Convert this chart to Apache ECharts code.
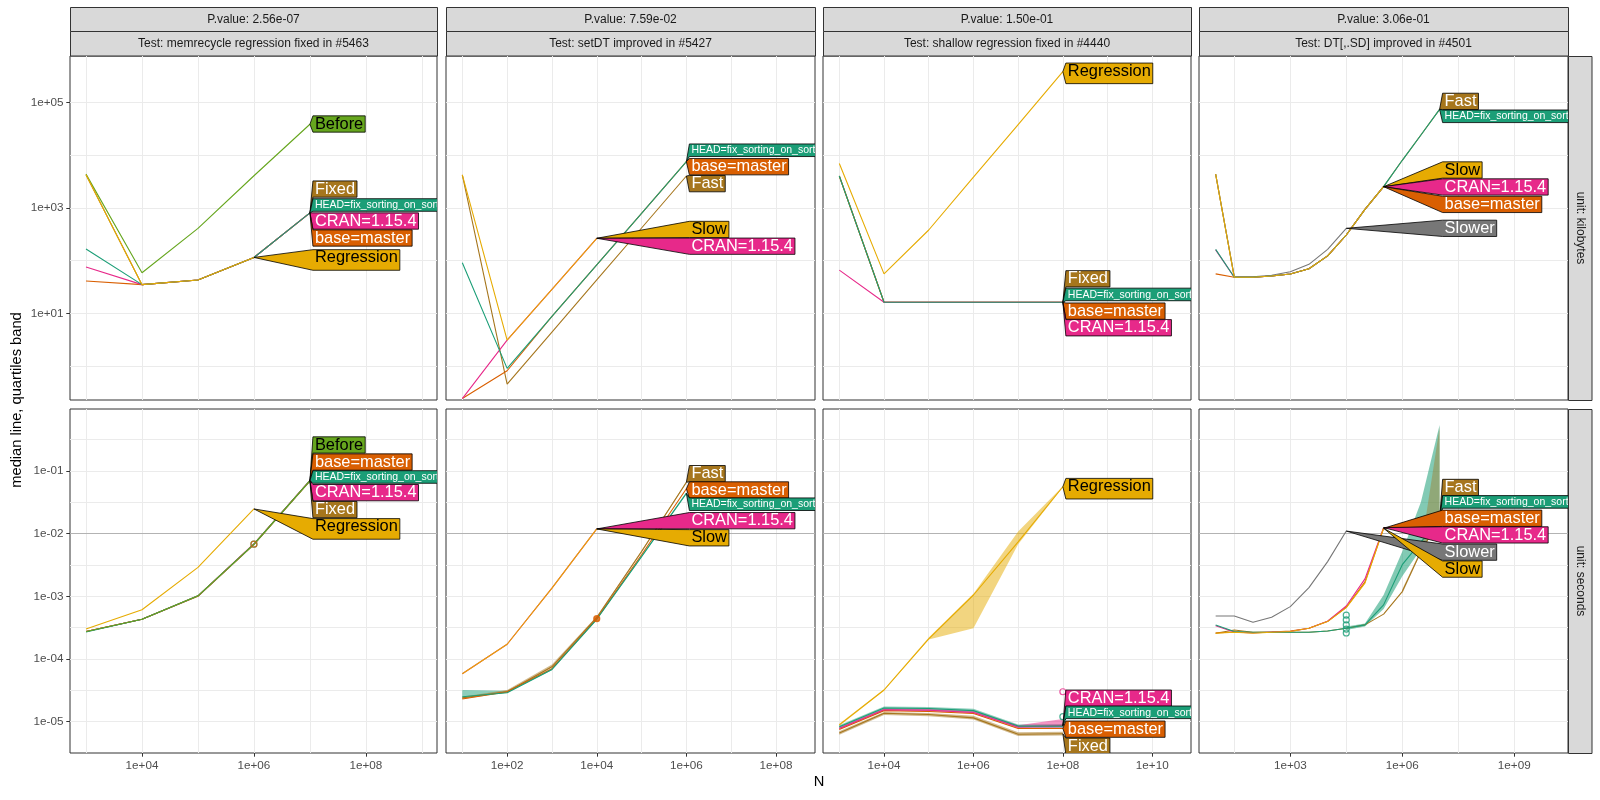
<!DOCTYPE html>
<html>
<head>
<meta charset="utf-8">
<script src="https://cdn.jsdelivr.net/npm/echarts@6.0.0/dist/echarts.min.js"></script>
<style>
html,body{margin:0;padding:0;background:#ffffff;}
#chart{width:1600px;height:800px;}
</style>
</head>
<body>
<div id="chart"></div>
<script>
// ===================== texts =====================
const pValueLabels = ['P.value: 2.56e-07', 'P.value: 7.59e-02', 'P.value: 1.50e-01', 'P.value: 3.06e-01'];
const testLabels = ['Test: memrecycle regression fixed in #5463', 'Test: setDT improved in #5427', 'Test: shallow regression fixed in #4440', 'Test: DT[,.SD] improved in #4501'];
const unitLabels = ['unit: kilobytes', 'unit: seconds'];
const xTitle = 'N';
const yTitle = 'median line, quartiles band';

const HEAD = 'HEAD=fix_sorting_on_sorted';
const BASE = 'base=master';
const CRAN = 'CRAN=1.15.4';

// ===================== axis breaks (log10 exponents) =====================
const xRangeExp = [[2.714, 9.27], [0.636, 8.87], [2.635, 10.866], [0.554, 10.44]];
const yRangeExp = [[-0.647, 5.887], [-5.5, -0.011]];
const xMajorExp = [[4, 6, 8], [2, 4, 6, 8], [4, 6, 8, 10], [3, 6, 9]];
const xGridExp = [[3, 4, 5, 6, 7, 8, 9], [1, 2, 3, 4, 5, 6, 7, 8], [3, 4, 5, 6, 7, 8, 9, 10], [1.5, 3, 4.5, 6, 7.5, 9]];
const yMajorExp = [[1, 3, 5], [-5, -4, -3, -2, -1]];
const yGridExp = [[0, 1, 2, 3, 4, 5], [-5, -4.5, -4, -3.5, -3, -2.5, -2, -1.5, -1, -0.5]];
const refLineSeconds = 0.01;

// ===================== column 1 : memrecycle =====================
const c1N = [1e3, 1e4, 1e5, 1e6, 1e7];
const c1KbBefore = [4400, 59, 410, 4100, 39000];
const c1KbRegression = [4300, 35, 43, 115];
const c1KbFixed = [4300, 35, 43, 115, 810];
const c1KbHead = [166, 35, 43, 115, 810];
const c1KbCran = [76, 35, 43, 115, 810];
const c1KbBase = [41, 35, 43, 115, 810];
const c1SecBefore = [2.75e-4, 4.3e-4, 1.02e-3, 6.8e-3, 0.070];
const c1SecRegression = [3.0e-4, 6.1e-4, 2.9e-3, 0.0248];
const c1SecFixed = [2.75e-4, 4.3e-4, 1.0e-3, 6.7e-3, 0.069];
const c1SecHead = [2.7e-4, 4.3e-4, 1.02e-3, 6.8e-3, 0.070];
const c1SecCran = [2.75e-4, 4.3e-4, 1.02e-3, 6.9e-3, 0.071];
const c1SecBase = [2.75e-4, 4.3e-4, 1.01e-3, 6.8e-3, 0.070];
const c1SecOutlierN = [1e6];
const c1SecOutlier = [6.8e-3];
const c1KbLabelNames = ['Before', 'Fixed', HEAD, CRAN, BASE, 'Regression'];
const c1KbLabelY = [3.94e4, 2290, 1140, 566, 269, 103];
const c1SecLabelNames = ['Before', BASE, HEAD, CRAN, 'Fixed', 'Regression'];
const c1SecLabelY = [0.26, 0.139, 0.0802, 0.0451, 0.0242, 0.0119];

// ===================== column 2 : setDT =====================
const c2N = [1e1, 1e2, 1e3, 1e4, 1e5, 1e6];
const c2KbSlow = [4240, 3.1, 28.6, 266];
const c2KbCran = [0.24, 3.1, 28.6, 266];
const c2KbHead = [91, 0.9, 8.7, 83, 794, 7590];
const c2KbBase = [0.24, 0.81, 8.7, 83, 794, 7590];
const c2KbFast = [4240, 0.45, 4.4, 43, 417, 4050];
const c2SecSlow = [5.8e-5, 1.72e-4, 1.35e-3, 0.0119];
const c2SecCran = [5.8e-5, 1.72e-4, 1.35e-3, 0.0119];
const c2SecFast = [2.4e-5, 3.0e-5, 7.5e-5, 4.6e-4, 5.2e-3, 0.066];
const c2SecBase = [2.3e-5, 3.0e-5, 7.0e-5, 4.4e-4, 4.6e-3, 0.052];
const c2SecHead = [2.5e-5, 2.9e-5, 6.8e-5, 4.3e-4, 4.3e-3, 0.044];
const c2SecHeadQ1 = [2.5e-5, 2.9e-5, 6.6e-5, 4.2e-4, 4.2e-3, 0.043];
const c2SecHeadQ3 = [3.2e-5, 3.1e-5, 7.1e-5, 4.5e-4, 4.5e-3, 0.046];
const c2SecFastQ1 = [2.3e-5, 2.9e-5, 7.3e-5, 4.5e-4, 5.0e-3, 0.064];
const c2SecFastQ3 = [2.5e-5, 3.2e-5, 8.2e-5, 4.8e-4, 5.4e-3, 0.068];
const c2SecOutlierN = [1e4];
const c2SecOutlier = [4.4e-4];
const c2KbLabelNames = [HEAD, BASE, 'Fast', 'Slow', CRAN];
const c2KbLabelY = [1.25e4, 6080, 2900, 391, 188];
const c2SecLabelNames = ['Fast', BASE, HEAD, CRAN, 'Slow'];
const c2SecLabelY = [0.0906, 0.0498, 0.0295, 0.0161, 0.00859];

// ===================== column 3 : shallow =====================
const c3N = [1e3, 1e4, 1e5, 1e6, 1e7, 1e8];
const c3KbRegression = [7000, 56, 382, 3840, 38500, 3.9e5];
const c3KbFixed = [4060, 16.2, 16.2, 16.2, 16.2, 16.2];
const c3KbHead = [4060, 16.2, 16.2, 16.2, 16.2, 16.2];
const c3KbBase = [4060, 16.2, 16.2, 16.2, 16.2, 16.2];
const c3KbCran = [66, 16.2, 16.2, 16.2, 16.2, 16.2];
const c3SecRegression = [8.9e-6, 3.2e-5, 2.1e-4, 1.05e-3, 7.4e-3, 0.056];
const c3SecRegressionQ1 = [8.5e-6, 3.1e-5, 2.05e-4, 3.1e-4, 6.8e-3, 0.055];
const c3SecRegressionQ3 = [9.3e-6, 3.3e-5, 2.2e-4, 1.1e-3, 0.0108, 0.057];
const c3SecHead = [8.3e-6, 1.65e-5, 1.62e-5, 1.5e-5, 8.5e-6, 8.5e-6];
const c3SecHeadQ1 = [7.8e-6, 1.55e-5, 1.5e-5, 1.4e-5, 8.0e-6, 8.0e-6];
const c3SecHeadQ3 = [8.8e-6, 1.75e-5, 1.72e-5, 1.6e-5, 9.0e-6, 9.2e-6];
const c3SecCran = [7.8e-6, 1.55e-5, 1.52e-5, 1.4e-5, 8.2e-6, 8.7e-6];
const c3SecCranQ1 = [7.5e-6, 1.5e-5, 1.45e-5, 1.35e-5, 7.8e-6, 8.0e-6];
const c3SecCranQ3 = [8.2e-6, 1.62e-5, 1.6e-5, 1.48e-5, 8.8e-6, 1.1e-5];
const c3SecBase = [7.5e-6, 1.5e-5, 1.45e-5, 1.35e-5, 7.8e-6, 7.8e-6];
const c3SecFixed = [6.6e-6, 1.36e-5, 1.3e-5, 1.15e-5, 6.3e-6, 6.4e-6];
const c3SecFixedQ1 = [6.2e-6, 1.28e-5, 1.22e-5, 1.08e-5, 5.9e-6, 6.0e-6];
const c3SecFixedQ3 = [7.0e-6, 1.42e-5, 1.38e-5, 1.24e-5, 6.8e-6, 6.9e-6];
const c3SecOutlierCranN = [1e8];
const c3SecOutlierCran = [3.0e-5];
const c3SecOutlierHeadN = [1e8];
const c3SecOutlierHead = [1.2e-5];
const c3KbLabelNames = ['Regression', 'Fixed', HEAD, BASE, CRAN];
const c3KbLabelY = [3.61e5, 45.2, 22.8, 11.0, 5.31];
const c3SecLabelNames = ['Regression', CRAN, HEAD, BASE, 'Fixed'];
const c3SecLabelY = [0.0522, 2.37e-5, 1.41e-5, 7.59e-6, 4.07e-6];

// ===================== column 4 : DT[,.SD] =====================
const c4N = [10, 31.6, 100, 316, 1e3, 3160, 1e4, 31600, 1e5, 316000, 1e6, 3.16e6, 1e7];
const c4KbSlower = [4400, 49.5, 49.5, 52.7, 61.7, 85, 164, 411];
const c4KbSlow = [4400, 48.3, 48.3, 51, 55.7, 70.3, 123, 307, 944, 2540];
const c4KbCran = [160, 48.3, 48.3, 51, 55.7, 70.3, 123, 307, 944, 2540];
const c4KbBase = [56, 48.3, 48.3, 51, 55.7, 70.3, 123, 307, 944, 2540];
const c4KbHead = [164, 48.3, 48.3, 51, 55.7, 70.3, 123, 307, 944, 2540, 8050, 24300, 74800];
const c4KbFast = [4400, 48.3, 48.3, 51, 55.7, 70.3, 123, 307, 944, 2540, 8050, 24300, 74800];
const c4SecSlower = [4.86e-4, 4.86e-4, 3.85e-4, 4.63e-4, 6.85e-4, 1.38e-3, 3.58e-3, 0.011];
const c4SecSlow = [2.58e-4, 2.67e-4, 2.58e-4, 2.67e-4, 2.74e-4, 3.09e-4, 3.95e-4, 6.6e-4, 1.62e-3, 0.0122];
const c4SecBase = [2.6e-4, 2.7e-4, 2.65e-4, 2.7e-4, 2.8e-4, 3.1e-4, 4.0e-4, 6.7e-4, 1.7e-3, 0.0122];
const c4SecCran = [3.4e-4, 2.7e-4, 2.6e-4, 2.7e-4, 2.75e-4, 3.1e-4, 4.0e-4, 7.0e-4, 1.9e-3, 0.0125];
const c4SecHead = [3.5e-4, 2.75e-4, 2.67e-4, 2.67e-4, 2.67e-4, 2.67e-4, 2.8e-4, 3.1e-4, 3.5e-4, 7.3e-4, 3.2e-3, 7.4e-3, 0.0155];
const c4SecFast = [2.58e-4, 2.9e-4, 2.67e-4, 2.67e-4, 2.67e-4, 2.67e-4, 2.8e-4, 3.1e-4, 3.5e-4, 5.2e-4, 1.19e-3, 5.2e-3, 0.017];
const c4SecHeadBandN = [31600, 1e5, 316000, 1e6, 3.16e6, 1e7];
const c4SecHeadQ1 = [2.9e-4, 3.3e-4, 6.3e-4, 2.1e-3, 5.7e-3, 0.014];
const c4SecHeadQ3 = [3.3e-4, 3.7e-4, 1.05e-3, 5.2e-3, 0.032, 0.54];
const c4SecFastBandN = [1e6, 3.16e6, 1e7];
const c4SecFastQ1 = [1.1e-3, 5.0e-3, 0.016];
const c4SecFastQ3 = [1.3e-3, 5.6e-3, 0.5];
const c4SecOutlierN = [31600, 31600, 31600, 31600, 31600];
const c4SecOutlier = [2.6e-4, 3.0e-4, 3.5e-4, 4.2e-4, 5.0e-4];
const c4KbLabelNames = ['Fast', HEAD, 'Slow', CRAN, BASE, 'Slower'];
const c4KbLabelY = [1.06e5, 5.52e4, 5270, 2510, 1170, 411];
const c4SecLabelNames = ['Fast', HEAD, BASE, CRAN, 'Slower', 'Slow'];
const c4SecLabelY = [0.0546, 0.0321, 0.0176, 0.00955, 0.00507, 0.00272];

// ===================== styles =====================
const FONT = '"Liberation Sans", Arimo, Arial, Helvetica, sans-serif';
const colorOf = {};
colorOf[HEAD] = '#1B9E77'; colorOf[BASE] = '#D95F02'; colorOf[CRAN] = '#E7298A';
colorOf['Before'] = '#66A61E'; colorOf['Regression'] = '#E6AB02'; colorOf['Slow'] = '#E6AB02';
colorOf['Fixed'] = '#A6761D'; colorOf['Fast'] = '#A6761D'; colorOf['Slower'] = '#777777';
const darkText = { 'Before': 1, 'Regression': 1, 'Slow': 1 };
const drawOrder = { 'Fixed': 1, 'Fast': 1, 'base=master': 2, 'CRAN=1.15.4': 3, 'Slower': 4, 'HEAD=fix_sorting_on_sorted': 5, 'Before': 6, 'Regression': 7, 'Slow': 7 };

const colPx = [[70, 437], [446, 815], [823, 1191], [1199, 1568]];
const rowPx = [[56, 400], [409, 753]];

// ===================== panels (built from the arrays) =====================
const panels = [
  { g: 0, N: c1N, lines: [['Before', c1KbBefore], ['Regression', c1KbRegression], ['Fixed', c1KbFixed], [HEAD, c1KbHead], [CRAN, c1KbCran], [BASE, c1KbBase]], bands: [], points: [], labels: [c1KbLabelNames, c1KbLabelY] },
  { g: 1, N: c2N, lines: [['Slow', c2KbSlow], [CRAN, c2KbCran], [HEAD, c2KbHead], [BASE, c2KbBase], ['Fast', c2KbFast]], bands: [], points: [], labels: [c2KbLabelNames, c2KbLabelY] },
  { g: 2, N: c3N, lines: [['Regression', c3KbRegression], ['Fixed', c3KbFixed], [HEAD, c3KbHead], [BASE, c3KbBase], [CRAN, c3KbCran]], bands: [], points: [], labels: [c3KbLabelNames, c3KbLabelY] },
  { g: 3, N: c4N, lines: [['Slower', c4KbSlower], ['Slow', c4KbSlow], [CRAN, c4KbCran], [BASE, c4KbBase], [HEAD, c4KbHead], ['Fast', c4KbFast]], bands: [], points: [], labels: [c4KbLabelNames, c4KbLabelY] },
  { g: 4, N: c1N, lines: [['Before', c1SecBefore], ['Regression', c1SecRegression], ['Fixed', c1SecFixed], [HEAD, c1SecHead], [CRAN, c1SecCran], [BASE, c1SecBase]], bands: [], points: [[HEAD, c1SecOutlierN, c1SecOutlier, false], [BASE, c1SecOutlierN, c1SecOutlier, false]], labels: [c1SecLabelNames, c1SecLabelY] },
  { g: 5, N: c2N, lines: [['Slow', c2SecSlow], [CRAN, c2SecCran], ['Fast', c2SecFast], [BASE, c2SecBase], [HEAD, c2SecHead]], bands: [[HEAD, c2N, c2SecHeadQ1, c2SecHeadQ3, 0.5], ['Fast', c2N, c2SecFastQ1, c2SecFastQ3, 0.5]], points: [[BASE, c2SecOutlierN, c2SecOutlier, true]], labels: [c2SecLabelNames, c2SecLabelY] },
  { g: 6, N: c3N, lines: [['Regression', c3SecRegression], [HEAD, c3SecHead], [CRAN, c3SecCran], [BASE, c3SecBase], ['Fixed', c3SecFixed]], bands: [['Regression', c3N, c3SecRegressionQ1, c3SecRegressionQ3, 0.5], [HEAD, c3N, c3SecHeadQ1, c3SecHeadQ3, 0.5], [CRAN, c3N, c3SecCranQ1, c3SecCranQ3, 0.5], ['Fixed', c3N, c3SecFixedQ1, c3SecFixedQ3, 0.5]], points: [[CRAN, c3SecOutlierCranN, c3SecOutlierCran, false], [HEAD, c3SecOutlierHeadN, c3SecOutlierHead, false]], labels: [c3SecLabelNames, c3SecLabelY] },
  { g: 7, N: c4N, lines: [['Slower', c4SecSlower], ['Slow', c4SecSlow], [BASE, c4SecBase], [CRAN, c4SecCran], [HEAD, c4SecHead], ['Fast', c4SecFast]], bands: [[HEAD, c4SecHeadBandN, c4SecHeadQ1, c4SecHeadQ3, 0.55], ['Fast', c4SecFastBandN, c4SecFastQ1, c4SecFastQ3, 0.4]], points: [[HEAD, c4SecOutlierN, c4SecOutlier, false]], labels: [c4SecLabelNames, c4SecLabelY] }
];

// ===================== helpers =====================
const L10 = Math.log10;
const measureCtx = document.createElement('canvas').getContext('2d');
function textWidth(t, font) { measureCtx.font = font; return measureCtx.measureText(t).width; }
function fmtExp(v) {
  const e = Math.round(v);
  const a = Math.abs(e);
  return '1e' + (e < 0 ? '-' : '+') + (a < 10 ? '0' + a : String(a));
}
function pts(N, vals) { return vals.map((v, i) => [L10(N[i]), L10(v)]); }

const series = [];

// quartile band: one custom item per N value; the polygon is built from all items through api.coord
function addBand(g, name, N, q1, q3, op) {
  const data = N.map((n, i) => [L10(n), L10(q1[i]), L10(q3[i])]);
  series.push({
    type: 'custom', xAxisIndex: g, yAxisIndex: g, z: 2, silent: true,
    data: data,
    renderItem: function (params, api) {
      if (params.dataIndex !== 0) return null;
      const upper = data.map(d => api.coord([d[0], d[2]]));
      const lower = data.map(d => api.coord([d[0], d[1]])).reverse();
      const cs = params.coordSys;
      return {
        type: 'polygon',
        clipPath: { type: 'rect', shape: { x: cs.x, y: cs.y, width: cs.width, height: cs.height } },
        shape: { points: upper.concat(lower) },
        style: { fill: colorOf[name], opacity: op, stroke: null }
      };
    }
  });
}

function addLabels(g, names, ys, anchors) {
  const data = names.map((n, i) => [anchors[i][0], anchors[i][1], L10(ys[i])]);
  series.push({
    type: 'custom', xAxisIndex: g, yAxisIndex: g, z: 10, silent: true,
    data: data,
    renderItem: function (params, api) {
      const i = params.dataIndex;
      let maxX = -Infinity;
      data.forEach(d => { const p = api.coord([d[0], d[1]]); if (p[0] > maxX) maxX = p[0]; });
      const a = api.coord([api.value(0), api.value(1)]);
      const c = api.coord([api.value(0), api.value(2)]);
      const name = names[i];
      const small = name === HEAD;
      const fs = small ? 10.5 : 16.4;
      const font = fs + 'px ' + FONT;
      const w = textWidth(name, font) + 4;
      const desc = !small && /[gjpqy]/.test(name);
      const h = small ? 12.6 : (desc ? 20.6 : 16.3);
      const top = c[1] - h / 2, bot = c[1] + h / 2;
      const left = maxX + 3, right = left + w;
      const ty = small ? top + h / 2 + 0.3 : top + 8.3;
      const cs = params.coordSys;
      return {
        type: 'group',
        clipPath: { type: 'rect', shape: { x: cs.x, y: cs.y, width: cs.width, height: cs.height } },
        children: [
          { type: 'polygon', shape: { points: [a, [left, top], [right, top], [right, bot], [left, bot]] },
            style: { fill: colorOf[name], stroke: '#000000', lineWidth: 0.8 } },
          { type: 'text', x: left + 2, y: ty,
            style: { text: name, font: font, fill: darkText[name] ? '#000000' : '#ffffff', align: 'left', verticalAlign: 'middle' } }
        ]
      };
    }
  });
}

// ===================== axes =====================
const grids = [], xAxes = [], yAxes = [];
for (let g = 0; g < 8; g++) {
  const col = g % 4, row = Math.floor(g / 4);
  grids.push({
    left: colPx[col][0], top: rowPx[row][0],
    width: colPx[col][1] - colPx[col][0], height: rowPx[row][1] - rowPx[row][0],
    show: true, borderColor: '#333333', borderWidth: 1, backgroundColor: '#ffffff',
    containLabel: false, outerBoundsMode: 'none'
  });
  xAxes.push({
    type: 'value', gridIndex: g, min: xRangeExp[col][0], max: xRangeExp[col][1], position: 'bottom',
    axisLine: { show: false, onZero: false },
    axisTick: { show: false, customValues: xGridExp[col] },
    axisLabel: { show: false, customValues: xGridExp[col] },
    splitLine: { show: true, lineStyle: { color: '#ebebeb', width: 1 } }
  });
  yAxes.push({
    type: 'value', gridIndex: g, min: yRangeExp[row][0], max: yRangeExp[row][1], position: 'left',
    axisLine: { show: false, onZero: false },
    axisTick: { show: false, customValues: yGridExp[row] },
    axisLabel: { show: false, customValues: yGridExp[row] },
    splitLine: { show: true, lineStyle: { color: '#ebebeb', width: 1 } }
  });
}
for (let col = 0; col < 4; col++) {
  xAxes.push({
    type: 'value', gridIndex: 4 + col, min: xRangeExp[col][0], max: xRangeExp[col][1], position: 'bottom',
    axisLine: { show: false, onZero: false },
    axisTick: { show: true, customValues: xMajorExp[col], length: 3.7, lineStyle: { color: '#333333', width: 1 } },
    axisLabel: { show: true, customValues: xMajorExp[col], formatter: fmtExp, color: '#4d4d4d', fontSize: 11.7, fontFamily: FONT, margin: 6.5 },
    splitLine: { show: false }
  });
}
for (let row = 0; row < 2; row++) {
  yAxes.push({
    type: 'value', gridIndex: row * 4, min: yRangeExp[row][0], max: yRangeExp[row][1], position: 'left',
    axisLine: { show: false, onZero: false },
    axisTick: { show: true, customValues: yMajorExp[row], length: 3.7, lineStyle: { color: '#333333', width: 1 } },
    axisLabel: { show: true, customValues: yMajorExp[row], formatter: fmtExp, color: '#4d4d4d', fontSize: 11.7, fontFamily: FONT, margin: 6.5 },
    splitLine: { show: false }
  });
}

// ===================== series =====================
panels.forEach(p => {
  const g = p.g;
  if (g >= 4) {
    series.push({
      type: 'line', xAxisIndex: g, yAxisIndex: g, data: [], silent: true, z: 1,
      markLine: { silent: true, symbol: ['none', 'none'], label: { show: false }, animation: false, z: 1,
        lineStyle: { color: '#b3b3b3', width: 1.2, type: 'solid' },
        data: [{ yAxis: L10(refLineSeconds) }] }
    });
  }
  p.bands.forEach(b => addBand(g, b[0], b[1], b[2], b[3], b[4]));
  const sorted = p.lines.slice().sort((a, b) => drawOrder[a[0]] - drawOrder[b[0]]);
  sorted.forEach(l => {
    series.push({
      type: 'line', xAxisIndex: g, yAxisIndex: g, name: l[0], data: pts(p.N, l[1]),
      symbol: 'none', showSymbol: false, silent: true, z: 3,
      lineStyle: { color: colorOf[l[0]], width: 1.1 }, itemStyle: { color: colorOf[l[0]] }
    });
  });
  p.points.forEach(pt => {
    series.push({
      type: 'scatter', xAxisIndex: g, yAxisIndex: g, data: pts(pt[1], pt[2]), symbol: 'circle', symbolSize: 6,
      silent: true, z: 4,
      itemStyle: { color: pt[3] ? colorOf[pt[0]] : 'rgba(0,0,0,0)', borderColor: colorOf[pt[0]], borderWidth: 1.2 }
    });
  });
  const names = p.labels[0], ys = p.labels[1];
  const anchors = names.map(n => {
    const line = p.lines.find(l => l[0] === n);
    const v = line[1];
    return [L10(p.N[v.length - 1]), L10(v[v.length - 1])];
  });
  addLabels(g, names, ys, anchors);
});

// ===================== strips & titles =====================
const graphics = [];
for (let col = 0; col < 4; col++) {
  const x0 = colPx[col][0], w = colPx[col][1] - colPx[col][0];
  graphics.push({ type: 'rect', shape: { x: x0 + 0.5, y: 7.5, width: w, height: 24 }, style: { fill: '#d9d9d9', stroke: '#333333', lineWidth: 1 }, silent: true });
  graphics.push({ type: 'rect', shape: { x: x0 + 0.5, y: 31.5, width: w, height: 24.5 }, style: { fill: '#d9d9d9', stroke: '#333333', lineWidth: 1 }, silent: true });
  graphics.push({ type: 'text', x: x0 + w / 2, y: 19.5, style: { text: pValueLabels[col], font: '12px ' + FONT, fill: '#1a1a1a', align: 'center', verticalAlign: 'middle' }, silent: true });
  graphics.push({ type: 'text', x: x0 + w / 2, y: 43.8, style: { text: testLabels[col], font: '12px ' + FONT, fill: '#1a1a1a', align: 'center', verticalAlign: 'middle' }, silent: true });
}
for (let row = 0; row < 2; row++) {
  const y0 = rowPx[row][0], h = rowPx[row][1] - rowPx[row][0];
  graphics.push({ type: 'rect', shape: { x: 1568.5, y: y0 + 0.5, width: 23.5, height: h }, style: { fill: '#d9d9d9', stroke: '#333333', lineWidth: 1 }, silent: true });
  graphics.push({ type: 'text', x: 1580.5, y: y0 + h / 2, rotation: -Math.PI / 2, style: { text: unitLabels[row], font: '12px ' + FONT, fill: '#1a1a1a', align: 'center', verticalAlign: 'middle' }, silent: true });
}
graphics.push({ type: 'text', x: 819, y: 782, style: { text: xTitle, font: '14.7px ' + FONT, fill: '#000000', align: 'center', verticalAlign: 'middle' }, silent: true });
graphics.push({ type: 'text', x: 17, y: 400, rotation: Math.PI / 2, style: { text: yTitle, font: '14.7px ' + FONT, fill: '#000000', align: 'center', verticalAlign: 'middle' }, silent: true });

const chart = echarts.init(document.getElementById('chart'), null, { renderer: 'canvas', width: 1600, height: 800 });
chart.setOption({
  animation: false,
  backgroundColor: '#ffffff',
  grid: grids,
  xAxis: xAxes,
  yAxis: yAxes,
  series: series,
  graphic: { elements: graphics }
});
</script>
</body>
</html>
